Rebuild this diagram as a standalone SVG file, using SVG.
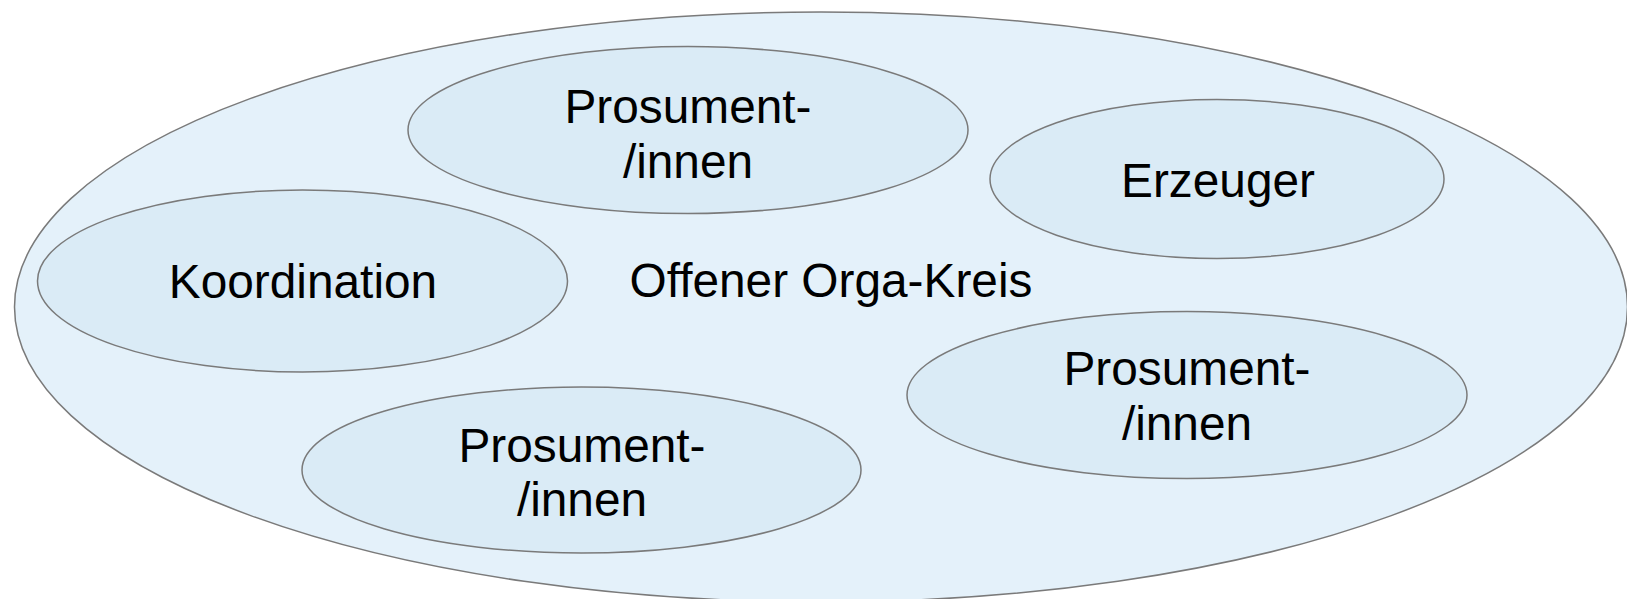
<svg xmlns="http://www.w3.org/2000/svg" width="1627" height="599" viewBox="0 0 1627 599">
<style>
.outer{fill:#e4f1fa;stroke:#7a7a7a;stroke-width:1.5}
.inner{fill:#daebf6;stroke:#7a7a7a;stroke-width:1.5}
text{font-family:"Liberation Sans",Arial,sans-serif;font-size:47.8px;fill:#000;text-anchor:middle}
</style>
<rect width="1627" height="599" fill="#ffffff"/>
<g id="orga-kreis">
<ellipse class="outer" cx="821" cy="307" rx="806.5" ry="295"/>
<text x="831" y="297">Offener Orga-Kreis</text>
</g>
<g id="prosument-top">
<ellipse class="inner" cx="688" cy="130" rx="280" ry="83.5"/>
<text x="688" y="123">Prosument-</text>
<text x="688" y="178">/innen</text>
</g>
<g id="erzeuger">
<ellipse class="inner" cx="1217" cy="179" rx="227" ry="79.5"/>
<text x="1218" y="197">Erzeuger</text>
</g>
<g id="koordination">
<ellipse class="inner" cx="302.5" cy="281" rx="265" ry="91"/>
<text x="303" y="298">Koordination</text>
</g>
<g id="prosument-right">
<ellipse class="inner" cx="1187" cy="395" rx="280" ry="83.5"/>
<text x="1187" y="385">Prosument-</text>
<text x="1187" y="440">/innen</text>
</g>
<g id="prosument-bottom">
<ellipse class="inner" cx="581.5" cy="470" rx="279.5" ry="83"/>
<text x="582" y="462">Prosument-</text>
<text x="582" y="516">/innen</text>
</g>
<g id="connectors"></g>
</svg>
